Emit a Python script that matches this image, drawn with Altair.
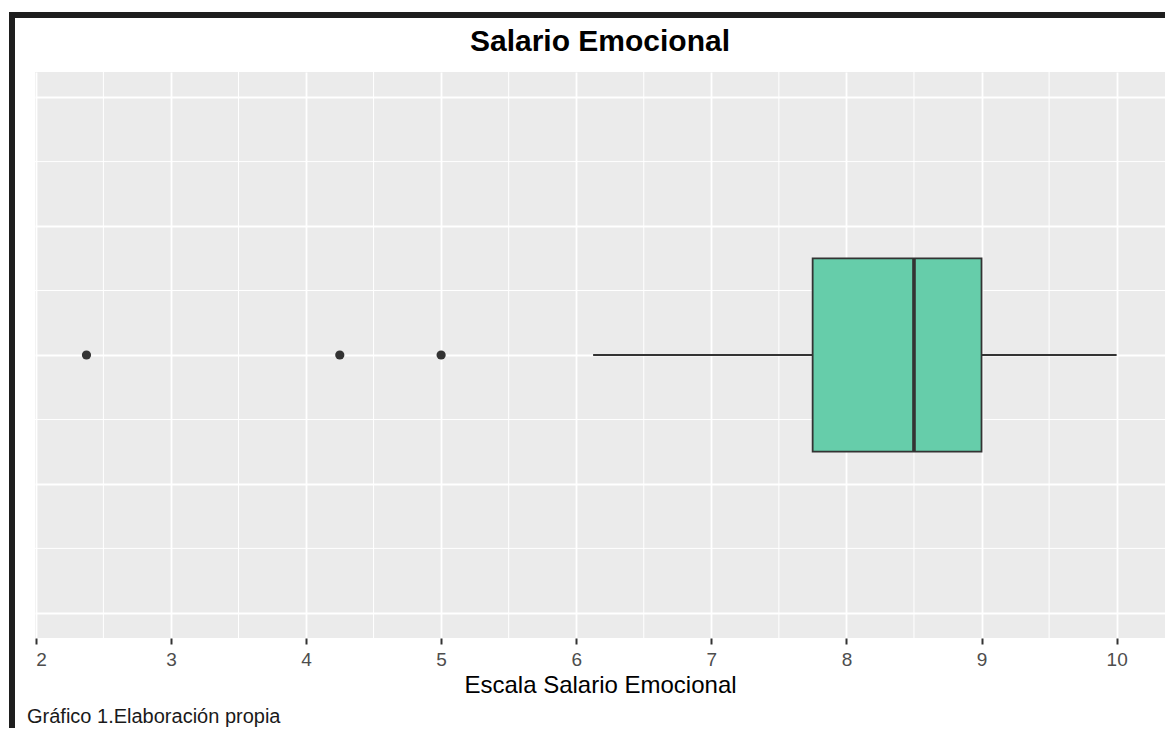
import altair as alt
import pandas as pd

# ---- data ----
x_ticks = [2, 3, 4, 5, 6, 7, 8, 9, 10]
x_minor = [2.5, 3.5, 4.5, 5.5, 6.5, 7.5, 8.5, 9.5]
y_major = [-0.4, -0.2, 0.0, 0.2, 0.4]
y_minor = [-0.3, -0.1, 0.1, 0.3]
whisker_low = [6.125]
q1 = [7.75]
median = [8.5]
q3 = [9.0]
whisker_high = [10.0]
outliers = [2.375, 4.25, 5.0]

title_text = "Salario Emocional"
x_title = "Escala Salario Emocional"
caption = "Gráfico 1.Elaboración propia"

# ---- styling ----
FONT = "Liberation Sans"
BOX_HALF = 0.15
W, H = 1130, 566

x_scale = alt.Scale(domain=[1.994, 10.358], nice=False, zero=False)
y_scale = alt.Scale(domain=[-0.439, 0.439], nice=False, zero=False)

x_axis = alt.Axis(
    values=x_ticks, format="d", title=x_title, grid=True, gridColor="#FFFFFF",
    gridWidth=1.8, domain=False, tickColor="#333333", tickWidth=2, tickSize=6,
    labelPadding=6, labelFontSize=19, labelColor="#4D4D4D", labelFont=FONT,
    titleFont=FONT, titleFontSize=24, titleFontWeight="normal", titleColor="#000000",
    titleY=54, titleBaseline="alphabetic",
)
y_axis = alt.Axis(
    values=y_major, grid=True, gridColor="#FFFFFF", gridWidth=1.8, domain=False,
    ticks=False, labels=False, title=None,
)

stats = pd.DataFrame({"wlo": whisker_low, "q1": q1, "med": median,
                      "q3": q3, "whi": whisker_high})
out_df = pd.DataFrame({"v": outliers})
xm_df = pd.DataFrame({"v": x_minor})
ym_df = pd.DataFrame({"v": y_minor})
one = pd.DataFrame({"a": [0]})

minor_x = alt.Chart(xm_df).mark_rule(color="#FFFFFF", strokeWidth=1).encode(
    x=alt.X("v:Q", scale=x_scale, axis=x_axis))
minor_y = alt.Chart(ym_df).mark_rule(color="#FFFFFF", strokeWidth=1).encode(
    y=alt.Y("v:Q", scale=y_scale, axis=y_axis))

wl = alt.Chart(stats).mark_rule(color="#333333", strokeWidth=1.8).encode(
    x=alt.X("wlo:Q", scale=x_scale, axis=x_axis), x2="q1:Q",
    y=alt.Y(datum=0, scale=y_scale, axis=y_axis))
wh = alt.Chart(stats).mark_rule(color="#333333", strokeWidth=1.8).encode(
    x=alt.X("q3:Q", scale=x_scale, axis=x_axis), x2="whi:Q",
    y=alt.Y(datum=0, scale=y_scale, axis=y_axis))
box = alt.Chart(stats).mark_rect(fill="#66CDAA", stroke="#333333", strokeWidth=1.8).encode(
    x=alt.X("q1:Q", scale=x_scale, axis=x_axis), x2="q3:Q",
    y=alt.Y(datum=-BOX_HALF, scale=y_scale, axis=y_axis), y2=alt.Y2(datum=BOX_HALF))
med = alt.Chart(stats).mark_rule(color="#333333", strokeWidth=3.6).encode(
    x=alt.X("med:Q", scale=x_scale, axis=x_axis),
    y=alt.Y(datum=-BOX_HALF, scale=y_scale, axis=y_axis), y2=alt.Y2(datum=BOX_HALF))
pts = alt.Chart(out_df).mark_circle(size=85, color="#333333", opacity=1).encode(
    x=alt.X("v:Q", scale=x_scale, axis=x_axis),
    y=alt.Y(datum=0, scale=y_scale, axis=y_axis))

cap = alt.Chart(one).mark_text(align="left", baseline="alphabetic", fontSize=20,
                               font=FONT, color="#1A1A1A").encode(
    x=alt.value(-8), y=alt.value(651), text=alt.value(caption))

border_left = alt.Chart(one).mark_rule(color="#1E1E1E", strokeWidth=6).encode(
    x=alt.value(-23), y=alt.value(-60), y2=alt.value(660))
border_top = alt.Chart(one).mark_rule(color="#1E1E1E", strokeWidth=6).encode(
    x=alt.value(-26), x2=alt.value(1140), y=alt.value(-57))

chart = alt.layer(
    minor_x, minor_y, wl, wh, box, med, pts, cap, border_left, border_top
).properties(
    width=W, height=H,
    title=alt.TitleParams(title_text, anchor="middle", frame="group", fontSize=30,
                          fontWeight="bold", font=FONT, color="#000000",
                          baseline="alphabetic", offset=-72),
    autosize=alt.AutoSizeParams(type="none"),
    padding={"left": 27, "top": 64, "right": 0, "bottom": 90},
    background="#FFFFFF",
).configure_view(fill="#EBEBEB", stroke=None)

chart.save("out.html", embed_options={"renderer": "svg", "actions": False})
